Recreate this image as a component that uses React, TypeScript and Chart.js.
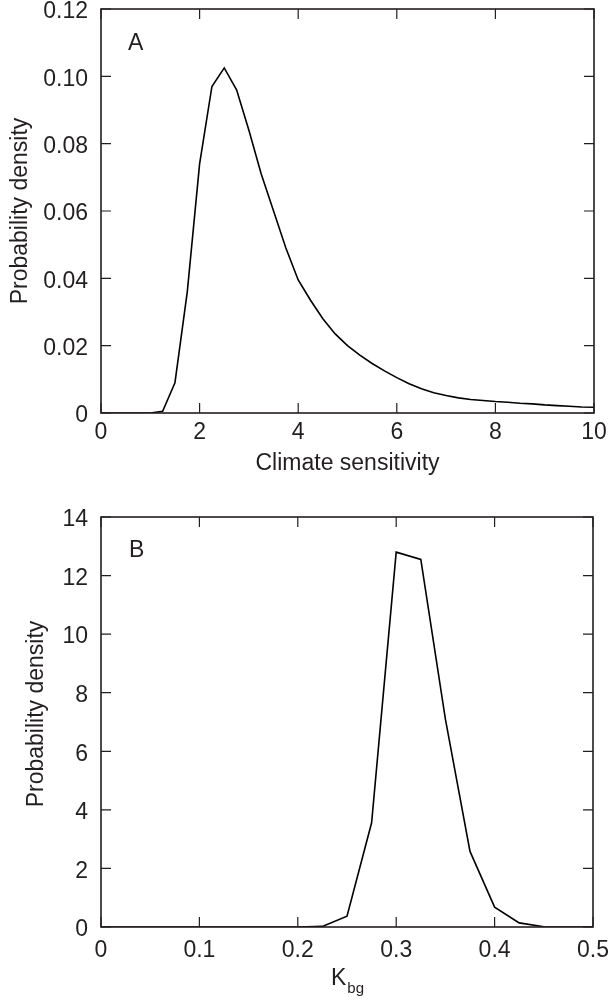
import React, { useEffect, useRef } from "react";
import { Chart, registerables } from "chart.js";

Chart.register(...registerables);

// ---------- Data ----------
const sensitivityX = [
  0, 0.25, 0.5, 0.75, 1.0, 1.25, 1.5, 1.75, 2.0, 2.25, 2.5, 2.75, 3.0, 3.25, 3.5, 3.75,
  4.0, 4.25, 4.5, 4.75, 5.0, 5.25, 5.5, 5.75, 6.0, 6.25, 6.5, 6.75, 7.0, 7.25, 7.5, 7.75,
  8.0, 8.25, 8.5, 8.75, 9.0, 9.25, 9.5, 9.75, 10.0,
];
const sensitivityDensity = [
  0, 0, 0, 0, 0, 0.0005, 0.009, 0.036, 0.074, 0.097, 0.1025, 0.096, 0.084, 0.071, 0.060, 0.049,
  0.0395, 0.0335, 0.028, 0.0235, 0.020, 0.0172, 0.0147, 0.0125, 0.0105, 0.0087, 0.0072, 0.0060,
  0.0052, 0.0045, 0.0040, 0.0037, 0.0034, 0.0032, 0.0029, 0.0027, 0.0024, 0.0022, 0.0020, 0.0018, 0.0017,
];
const kbgX = [
  0, 0.025, 0.05, 0.075, 0.1, 0.125, 0.15, 0.175, 0.2, 0.225, 0.25, 0.275, 0.3, 0.325, 0.35,
  0.375, 0.4, 0.425, 0.45, 0.475, 0.5,
];
const kbgDensity = [
  0, 0, 0, 0, 0, 0, 0, 0, 0, 0.02, 0.37, 3.56, 12.8, 12.55, 7.1, 2.58, 0.68, 0.14, 0.01, 0, 0,
];

const xTicksA = [0, 2, 4, 6, 8, 10];
const yTicksA = [0, 0.02, 0.04, 0.06, 0.08, 0.1, 0.12];
const xTicksB = [0, 0.1, 0.2, 0.3, 0.4, 0.5];
const yTicksB = [0, 2, 4, 6, 8, 10, 12, 14];

const panelLetters = ["A", "B"];
const xTitleA = "Climate sensitivity";
const xTitleBMain = "K";
const xTitleBSub = "bg";
const yTitle = "Probability density";

const FONT = "'Liberation Sans', Arial, Helvetica, sans-serif";
const INK = "#231f20";

type PanelCfg = {
  xs: number[];
  ys: number[];
  xTicks: number[];
  yTicks: number[];
  xFmt: (v: number) => string;
  yFmt: (v: number) => string;
  padTop: number;
  padRight: number;
  yAxisWidth: number;
  xAxisHeight: number;
  xLabelPad: number;
  letter: string;
  letterPos: [number, number];
  yTitleX: number;
  yTitleDY: number;
  drawXTitle: (ctx: CanvasRenderingContext2D, cx: number) => void;
};

function makeChart(canvas: HTMLCanvasElement, cfg: PanelCfg) {
  const framePlugin = {
    id: "frame",
    afterDraw(chart: any) {
      const ctx = chart.ctx as CanvasRenderingContext2D;
      const { left, right, top, bottom } = chart.chartArea;
      const xs = chart.scales.x;
      const ys = chart.scales.y;
      ctx.save();
      ctx.strokeStyle = INK;
      ctx.lineWidth = 1.6;
      ctx.strokeRect(left, top, right - left, bottom - top);
      ctx.lineWidth = 1.2;
      const TL = 10;
      ctx.beginPath();
      cfg.xTicks.forEach((v) => {
        const p = xs.getPixelForValue(v);
        ctx.moveTo(p, bottom);
        ctx.lineTo(p, bottom - TL);
        ctx.moveTo(p, top);
        ctx.lineTo(p, top + TL);
      });
      cfg.yTicks.forEach((v) => {
        const p = ys.getPixelForValue(v);
        ctx.moveTo(left, p);
        ctx.lineTo(left + TL, p);
        ctx.moveTo(right, p);
        ctx.lineTo(right - TL, p);
      });
      ctx.stroke();

      ctx.fillStyle = INK;
      ctx.font = `23px ${FONT}`;
      ctx.textAlign = "left";
      ctx.textBaseline = "alphabetic";
      ctx.fillText(cfg.letter, left + cfg.letterPos[0], top + cfg.letterPos[1]);

      // y title
      ctx.save();
      ctx.translate(cfg.yTitleX, (top + bottom) / 2 + cfg.yTitleDY);
      ctx.rotate(-Math.PI / 2);
      ctx.textAlign = "center";
      ctx.fillText(yTitle, 0, 0);
      ctx.restore();

      cfg.drawXTitle(ctx, (left + right) / 2);
      ctx.restore();
    },
  };

  return new Chart(canvas, {
    type: "scatter",
    data: {
      datasets: [
        {
          data: cfg.xs.map((x, i) => ({ x, y: cfg.ys[i] })),
          showLine: true,
          borderColor: "#000000",
          borderWidth: 1.6,
          pointRadius: 0,
          tension: 0,
          fill: false,
        },
      ],
    },
    options: {
      animation: false,
      responsive: false,
      maintainAspectRatio: false,
      devicePixelRatio: 1,
      layout: { padding: { top: cfg.padTop, right: cfg.padRight, left: 0, bottom: 0 } },
      plugins: { legend: { display: false }, tooltip: { enabled: false } },
      scales: {
        x: {
          type: "linear",
          min: cfg.xTicks[0],
          max: cfg.xTicks[cfg.xTicks.length - 1],
          afterBuildTicks: (s: any) => {
            s.ticks = cfg.xTicks.map((v) => ({ value: v }));
          },
          afterFit: (s: any) => {
            s.height = cfg.xAxisHeight;
            s.paddingLeft = 0;
            s.paddingRight = 0;
          },
          grid: { display: false, drawTicks: false },
          border: { display: false },
          ticks: {
            color: INK,
            font: { family: FONT, size: 23 },
            padding: cfg.xLabelPad,
            maxRotation: 0,
            autoSkip: false,
            callback: (v: any) => cfg.xFmt(Number(v)),
          },
        },
        y: {
          type: "linear",
          min: cfg.yTicks[0],
          max: cfg.yTicks[cfg.yTicks.length - 1],
          afterBuildTicks: (s: any) => {
            s.ticks = cfg.yTicks.map((v) => ({ value: v }));
          },
          afterFit: (s: any) => {
            s.width = cfg.yAxisWidth;
            s.paddingTop = 0;
            s.paddingBottom = 0;
          },
          grid: { display: false, drawTicks: false },
          border: { display: false },
          ticks: {
            color: INK,
            font: { family: FONT, size: 23 },
            padding: 13,
            labelOffset: 3,
            autoSkip: false,
            callback: (v: any) => cfg.yFmt(Number(v)),
          },
        },
      },
    },
    plugins: [framePlugin],
  } as any);
}

export default function App() {
  const refA = useRef<HTMLCanvasElement>(null);
  const refB = useRef<HTMLCanvasElement>(null);

  useEffect(() => {
    const a = makeChart(refA.current!, {
      xs: sensitivityX,
      ys: sensitivityDensity,
      xTicks: xTicksA,
      yTicks: yTicksA,
      xFmt: (v) => String(Math.round(v)),
      yFmt: (v) => (v === 0 ? "0" : v.toFixed(2)),
      padTop: 9,
      padRight: 18,
      yAxisWidth: 101,
      xAxisHeight: 87,
      xLabelPad: 6,
      letter: panelLetters[0],
      letterPos: [27, 41],
      yTitleX: 27,
      yTitleDY: 0,
      drawXTitle: (ctx, cx) => {
        ctx.font = `23px ${FONT}`;
        ctx.textAlign = "center";
        ctx.textBaseline = "alphabetic";
        ctx.fillText(xTitleA, cx, 470);
      },
    });
    const b = makeChart(refB.current!, {
      xs: kbgX,
      ys: kbgDensity,
      xTicks: xTicksB,
      yTicks: yTicksB,
      xFmt: (v) => (v === 0 ? "0" : v.toFixed(1)),
      yFmt: (v) => String(Math.round(v)),
      padTop: 27,
      padRight: 19,
      yAxisWidth: 101,
      xAxisHeight: 76,
      xLabelPad: 10,
      letter: panelLetters[1],
      letterPos: [28, 40],
      yTitleX: 43,
      yTitleDY: -8,
      drawXTitle: (ctx, cx) => {
        ctx.textBaseline = "alphabetic";
        ctx.textAlign = "left";
        ctx.font = `23px ${FONT}`;
        const wK = ctx.measureText(xTitleBMain).width;
        ctx.font = `15px ${FONT}`;
        const wS = ctx.measureText(xTitleBSub).width;
        const x0 = cx - (wK + wS) / 2;
        ctx.font = `23px ${FONT}`;
        ctx.fillText(xTitleBMain, x0, 495);
        ctx.font = `15px ${FONT}`;
        ctx.fillText(xTitleBSub, x0 + wK + 1, 503);
      },
    });
    return () => {
      a.destroy();
      b.destroy();
    };
  }, []);

  return (
    <div style={{ position: "absolute", left: 0, top: 0, width: 612, height: 1003, background: "#fff" }}>
      <canvas ref={refA} width={612} height={500} style={{ position: "absolute", left: 0, top: 0, width: 612, height: 500 }} />
      <canvas ref={refB} width={612} height={513} style={{ position: "absolute", left: 0, top: 490, width: 612, height: 513 }} />
    </div>
  );
}
